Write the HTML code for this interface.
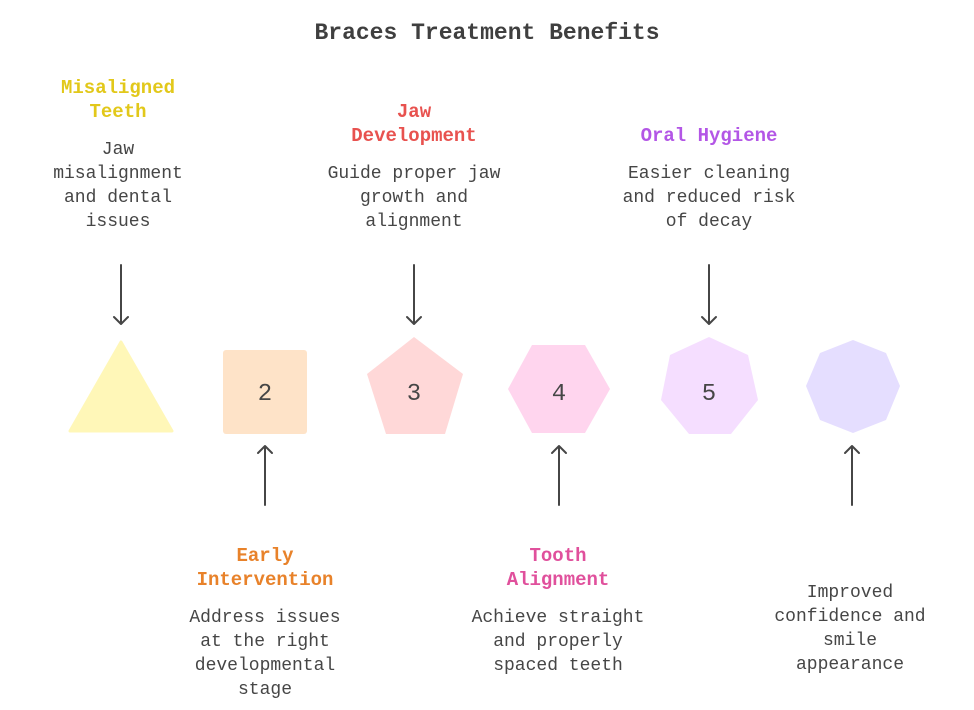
<!DOCTYPE html>
<html><head><meta charset="utf-8"><style>
body{margin:0;width:974px;height:710px;background:#fff;position:relative;overflow:hidden;font-family:"Liberation Mono",monospace;color:#464646}
.t{position:absolute;width:240px;text-align:center;font-size:18px;line-height:24px;white-space:nowrap}
.h{font-weight:bold;font-size:19px}
.b{margin-top:14px}
</style></head><body>
<div class="t" style="left:247px;width:480px;top:18px;font-size:23px;font-weight:bold;line-height:30px;color:#3f3f3f">Braces Treatment Benefits</div>

<div class="t" style="left:-2px;top:76px"><div class="h" style="color:#e2c81a">Misaligned<br>Teeth</div><div class="b">Jaw<br>misalignment<br>and dental<br>issues</div></div>
<div class="t" style="left:294px;top:100px"><div class="h" style="color:#e8524f">Jaw<br>Development</div><div class="b">Guide proper jaw<br>growth and<br>alignment</div></div>
<div class="t" style="left:589px;top:124px"><div class="h" style="color:#b356e6">Oral Hygiene</div><div class="b">Easier cleaning<br>and reduced risk<br>of decay</div></div>

<div class="t" style="left:145px;top:544px"><div class="h" style="color:#e8822a">Early<br>Intervention</div><div class="b">Address issues<br>at the right<br>developmental<br>stage</div></div>
<div class="t" style="left:438px;top:544px"><div class="h" style="color:#e0509c">Tooth<br>Alignment</div><div class="b">Achieve straight<br>and properly<br>spaced teeth</div></div>
<div class="t" style="left:730px;top:581px">Improved<br>confidence and<br>smile<br>appearance</div>

<svg width="974" height="710" style="position:absolute;left:0;top:0" fill="none">
<polygon points="121,342 172,431 70,431" fill="#fff7b8" stroke="#fff7b8" stroke-width="3" stroke-linejoin="round"/>
<rect x="223" y="350" width="84" height="84" rx="3" fill="#fee3c8"/>
<polygon points="414,337 463,374 445,434 386,434 367,374" fill="#ffd8d8"/>
<polygon points="532,345 585,345 610,389 585,433 532,433 508,389" fill="#ffd5ee"/>
<polygon points="709,337 748,355 758,400 731,434 689,434 661,400 670,355" fill="#f5deff"/>
<polygon points="853,340 886,353 900,386 886,420 853,433 820,420 806,386 820,353" fill="#e5deff"/>
<g font-family="Liberation Mono, monospace" font-size="24" fill="#464646" text-anchor="middle">
<text x="265" y="400">2</text><text x="414" y="400">3</text><text x="559" y="400">4</text><text x="709" y="400">5</text>
</g>
<g stroke="#464646" stroke-width="2" stroke-linecap="round" stroke-linejoin="round">
<path d="M121 265V324M114 317L121 324L128 317"/>
<path d="M414 265V324M407 317L414 324L421 317"/>
<path d="M709 265V324M702 317L709 324L716 317"/>
<path d="M265 505V446M258 453L265 446L272 453"/>
<path d="M559 505V446M552 453L559 446L566 453"/>
<path d="M852 505V446M845 453L852 446L859 453"/>
</g>
</svg>
</body></html>
